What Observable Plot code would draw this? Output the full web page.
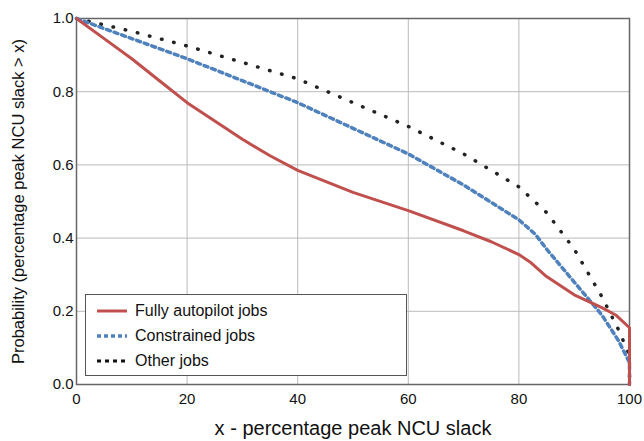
<!DOCTYPE html>
<html><head><meta charset="utf-8">
<script src="https://cdn.jsdelivr.net/npm/d3@7"></script>
<script src="https://cdn.jsdelivr.net/npm/@observablehq/plot@0.6"></script>
<style>
body{margin:0;background:#fff;font-family:"Liberation Sans",Arial,sans-serif}
#wrap{position:relative;width:644px;height:441px}
#legend{position:absolute;left:85px;top:294px;width:322px;height:82px;border:1px solid #555;background:#fff;box-sizing:border-box;font-size:16px;color:#111}
#legend div{height:25px;display:flex;align-items:center;padding-left:11px}
#legend svg{margin-right:8px}
</style></head><body>
<div id="wrap"><div id="chart"></div>
<div id="legend">
<div style="margin-top:3px"><svg width="30" height="6"><line x1="0" x2="30" y1="3" y2="3" stroke="#c0504d" stroke-width="3"/></svg>Fully autopilot jobs</div>
<div><svg width="30" height="6"><line x1="0" x2="30" y1="3" y2="3" stroke="#4f81bd" stroke-width="3.5" stroke-dasharray="4,3"/></svg>Constrained jobs</div>
<div><svg width="30" height="6"><line x1="0" x2="30" y1="3" y2="3" stroke="#111" stroke-width="3" stroke-dasharray="4,4"/></svg>Other jobs</div>
</div></div>
<script>
const autoX = [0, 5, 10, 15, 20, 25, 30, 35, 40, 50, 60, 70, 75, 80, 82, 85, 90, 95, 97.5, 100, 100];
const autoY = [1.0, 0.945, 0.89, 0.83, 0.77, 0.72, 0.67, 0.625, 0.585, 0.525, 0.475, 0.42, 0.39, 0.355, 0.335, 0.295, 0.245, 0.21, 0.19, 0.155, 0.0];
const consX = [0, 10, 20, 30, 40, 50, 60, 70, 80, 83, 85, 90, 95, 98, 100, 100];
const consY = [1.0, 0.945, 0.89, 0.83, 0.77, 0.70, 0.63, 0.545, 0.45, 0.41, 0.37, 0.28, 0.19, 0.12, 0.06, 0.0];
const otherX = [0, 10, 20, 30, 40, 50, 60, 70, 80, 85, 90, 95, 98, 100, 100];
const otherY = [1.0, 0.965, 0.925, 0.88, 0.835, 0.77, 0.705, 0.63, 0.54, 0.47, 0.37, 0.24, 0.15, 0.08, 0.0];
const xTicks = [0, 20, 40, 60, 80, 100];
const yTicks = [0, 0.2, 0.4, 0.6, 0.8, 1.0];

const pts = (xs, ys) => xs.map((x, i) => ({x, y: ys[i]}));

const chart = Plot.plot({
  width: 644,
  height: 441,
  marginLeft: 76,
  marginRight: 15,
  marginTop: 18,
  marginBottom: 57,
  style: {fontFamily: "Liberation Sans, Arial, sans-serif", fontSize: "15px", color: "#111"},
  x: {domain: [0, 100], ticks: xTicks, tickSize: 0, tickPadding: 9, label: null},
  y: {domain: [0, 1], ticks: yTicks, tickSize: 0, tickPadding: 3, tickFormat: d3.format(".1f"), label: null},
  marks: [
    Plot.gridX(xTicks, {stroke: "#bbb", strokeOpacity: 1}),
    Plot.gridY(yTicks, {stroke: "#bbb", strokeOpacity: 1}),
    Plot.frame({stroke: "#666", strokeWidth: 1.5}),
    Plot.line(pts(otherX, otherY), {x: "x", y: "y", stroke: "#222", strokeWidth: 3.5, strokeDasharray: "0.5,12", strokeLinecap: "round"}),
    Plot.line(pts(consX, consY), {x: "x", y: "y", stroke: "#4f81bd", strokeWidth: 3.5, strokeDasharray: "4,4"}),
    Plot.line(pts(autoX, autoY), {x: "x", y: "y", stroke: "#c0504d", strokeWidth: 3}),
    Plot.text(["x - percentage peak NCU slack"], {frameAnchor: "bottom", dy: 50, fontSize: 20}),
    Plot.text(["Probability (percentage peak NCU slack > x)"], {frameAnchor: "left", dx: -58, rotate: -90, textAnchor: "middle", fontSize: 16.5})
  ]
});
document.getElementById("chart").append(chart);
</script></body></html>
